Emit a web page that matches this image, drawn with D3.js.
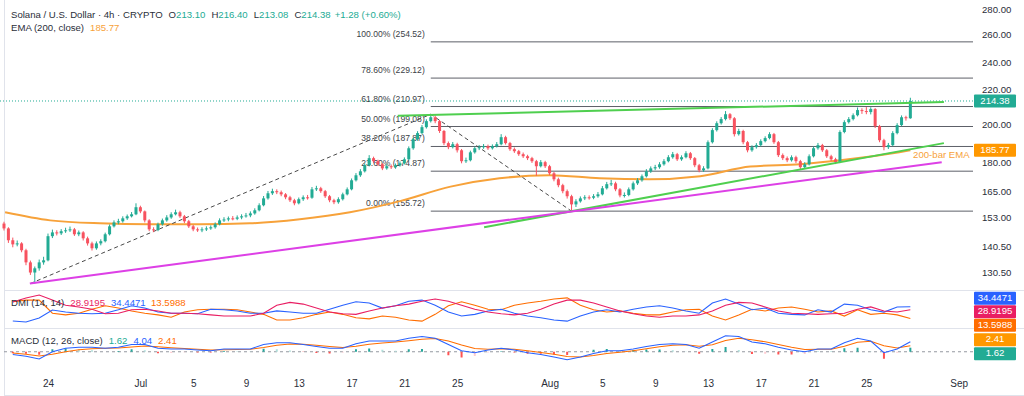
<!DOCTYPE html>
<html>
<head>
<meta charset="utf-8">
<script src="https://cdn.jsdelivr.net/npm/d3@7"></script>
<style>
  body { margin: 0; background: #fff; }
  svg { display: block; font-family: "Liberation Sans", Arial, sans-serif; }
</style>
</head>
<body>
<div id="chart"></div>
<script>
// ---- data ----
const candleStart = "2025-06-20T16:00";   // 8h candles
const firstOpen = 150.2;
const closes = [148.1,143.1,141.4,141.8,139.0,134.2,130.3,131.9,134.2,135.0,
  144.8,146.4,146.0,146.9,147.3,147.7,145.6,146.4,143.9,141.8,
  139.8,141.8,142.7,145.6,149.0,150.7,151.2,152.5,153.4,154.3,
  157.5,155.6,151.6,147.7,147.4,149.9,151.6,152.9,154.3,155.2,
  153.4,151.2,149.0,147.7,147.3,147.7,148.1,148.6,149.9,151.6,
  152.0,152.5,152.3,152.9,153.4,153.8,154.7,156.1,158.4,161.6,
  164.0,165.0,164.5,163.5,162.1,160.7,159.3,161.2,162.1,161.9,
  165.9,166.4,165.0,162.6,160.7,159.8,161.2,163.5,165.9,170.3,
  172.8,174.8,177.9,181.6,180.0,178.4,176.3,177.4,176.9,177.9,
  178.9,181.0,186.9,191.9,195.3,198.7,202.2,204.5,202.2,196.5,
  189.7,187.5,189.1,185.8,180.0,180.5,184.7,186.9,187.5,188.0,
  186.9,188.0,189.1,193.0,189.7,186.4,185.3,183.7,182.6,181.6,
  180.0,177.4,179.5,177.4,173.8,170.8,167.9,165.0,162.6,158.8,
  160.2,161.6,162.1,161.9,162.6,163.5,166.4,168.4,168.8,165.9,
  163.0,163.2,165.9,168.8,170.3,172.3,174.8,176.3,176.9,178.4,
  180.0,182.1,183.7,181.0,182.1,184.2,181.6,177.9,175.3,176.3,
  190.2,197.0,201.0,203.4,206.3,203.9,194.7,196.5,190.2,185.8,
  187.5,188.6,190.8,192.5,194.7,190.2,183.2,181.6,180.5,182.1,
  180.0,176.9,178.4,182.6,186.9,188.6,185.8,182.6,181.0,179.5,
  195.9,201.6,203.4,205.7,208.8,208.2,207.6,209.4,199.3,191.3,
  187.5,188.6,195.3,199.9,204.5,203.9,214.38];
const highs = [151.0,148.6,144.2,143.0,142.3,139.6,134.9,132.6,135.3,136.4,
  145.9,147.6,147.3,147.8,148.4,148.9,148.3,147.2,146.9,144.6,
  142.5,142.6,143.5,146.3,149.8,151.6,152.3,153.4,154.2,155.3,
  159.3,158.2,156.0,152.1,148.6,150.6,152.4,153.9,155.2,156.4,
  155.9,154.0,151.8,149.6,148.5,148.6,149.0,149.4,150.7,152.5,
  153.0,153.3,153.5,153.8,154.3,154.9,155.6,157.0,159.3,162.7,
  165.1,166.2,165.9,165.3,164.1,162.8,161.4,162.0,163.0,163.2,
  167.0,167.6,167.1,165.6,163.2,161.4,162.1,164.3,166.8,171.2,
  173.9,175.9,178.8,183.2,182.4,180.8,179.0,178.5,178.3,178.8,
  179.9,182.0,187.9,192.8,196.4,199.9,203.3,206.3,205.6,202.9,
  197.1,190.6,190.3,189.9,186.5,181.9,185.6,187.8,188.6,189.2,
  188.9,189.0,190.3,194.7,193.8,190.4,187.3,186.0,184.6,183.4,
  182.3,180.7,180.6,180.2,178.1,174.5,171.6,168.6,165.8,163.3,
  161.2,162.5,163.1,163.0,163.6,164.6,167.5,169.5,170.5,169.6,
  166.5,164.4,166.8,169.7,171.4,173.2,175.9,177.3,178.1,179.5,
  181.1,183.2,184.9,184.4,183.1,185.3,184.9,182.2,178.6,177.4,
  191.2,198.1,202.1,204.6,208.2,207.0,204.6,197.8,197.2,190.9,
  188.5,189.7,191.8,193.5,195.8,195.4,190.9,184.1,182.5,183.1,
  182.9,180.7,179.5,183.6,187.9,189.8,189.3,186.5,183.4,181.8,
  196.9,202.7,204.6,206.8,210.4,209.9,210.6,210.5,210.0,200.0,
  192.1,189.8,196.4,201.0,205.6,205.4,216.40];
const lows = [147.2,142.0,140.2,140.6,138.2,133.1,129.4,126.2,131.0,133.3,
  134.6,144.0,145.1,145.3,146.2,146.6,144.9,144.8,143.0,140.9,
  138.9,139.2,141.0,142.2,145.1,148.5,149.9,150.6,151.8,152.9,
  153.9,154.8,150.7,146.9,146.5,146.9,149.3,151.0,152.3,153.8,
  152.7,150.4,148.3,146.9,146.6,146.5,147.0,147.5,148.0,149.4,
  150.9,151.2,151.6,151.7,152.1,152.8,153.0,154.1,155.6,157.9,
  161.0,163.2,163.6,162.6,161.2,159.9,158.4,158.8,160.4,161.0,
  161.4,165.1,164.2,161.8,159.8,158.9,159.1,160.6,163.0,165.4,
  169.7,172.0,174.2,177.3,179.1,177.5,175.4,175.6,176.0,176.1,
  177.2,178.3,180.5,186.1,191.0,194.6,197.9,201.4,201.0,195.4,
  188.6,186.4,186.8,184.6,178.9,179.1,179.9,184.0,185.9,186.6,
  186.0,186.2,187.3,188.5,188.9,185.5,184.4,182.8,181.7,180.6,
  179.1,172.6,176.8,176.5,172.9,169.8,166.9,164.0,161.5,155.7,
  157.6,159.6,160.8,161.0,161.2,161.9,163.0,165.8,167.5,165.0,
  162.1,162.0,162.6,165.3,168.0,169.6,171.7,174.0,175.4,176.1,
  177.7,179.4,181.3,180.1,180.2,181.5,180.7,176.9,174.3,174.5,
  175.8,189.5,196.2,200.2,202.6,202.9,193.4,193.9,189.1,184.7,
  185.0,186.7,187.9,190.1,191.8,189.3,182.2,180.6,179.5,179.8,
  179.0,175.8,176.1,177.8,182.0,186.1,184.9,181.7,180.1,178.5,
  179.0,195.2,200.8,202.6,205.0,206.5,206.3,206.2,198.2,190.2,
  185.8,186.5,188.0,194.6,199.2,202.5,203.6];

// EMA 200 read at points along the curve
const emaTimes = ["2025-06-20T18:00","2025-06-24T04:00","2025-06-27T22:00","2025-07-01T17:00",
  "2025-07-05T12:00","2025-07-09T07:00","2025-07-13T02:00","2025-07-16T21:00","2025-07-20T16:00",
  "2025-07-24T12:00","2025-07-28T05:00","2025-08-01T00:00","2025-08-04T19:00","2025-08-08T14:00",
  "2025-08-12T10:00","2025-08-16T05:00","2025-08-20T00:00","2025-08-23T19:00","2025-08-27T12:00",
  "2025-08-28T08:00"];
const emaValues = [155.2,151.6,150.3,149.9,149.9,150.3,152.1,155.2,160.3,
  167.2,171.3,172.8,171.3,170.8,172.3,177.2,178.4,181.1,184.8,185.77];

// drawings
const upperGreen = [["2025-07-20T12:00", 205.4], ["2025-08-30T21:00", 213.7]];
const lowerGreen = [["2025-07-27T01:00", 148.6], ["2025-08-30T21:00", 189.7]];
const magentaLine = [["2025-06-22T15:00", 126.2], ["2025-08-30T17:00", 179.5]];
const swingPath = [["2025-06-22T16:00", 126.2], ["2025-07-23T00:00", 206.3], ["2025-08-02T16:00", 155.7]];
const fibStart = "2025-07-23T00:00";
const fibLevels = ["0.00%","23.60%","38.20%","50.00%","61.80%","78.60%","100.00%"];
const fibPrices = [155.72, 174.87, 187.87, 199.08, 210.97, 229.12, 254.52];
const emaNote = ["2025-08-28T13:00", 183.2];

const priceTicks = [130.5, 140.5, 153, 165, 180, 200, 220, 240, 260, 280];
const timeTicks = ["2025-06-24","2025-07-01","2025-07-05","2025-07-09","2025-07-13","2025-07-17",
  "2025-07-21","2025-07-25","2025-08-01","2025-08-05","2025-08-09","2025-08-13","2025-08-17",
  "2025-08-21","2025-08-25","2025-09-01"];

const lastPrice = 214.38, lastEma = 185.77;
const legendOHLC = [["O", "213.10"], ["H", "216.40"], ["L", "213.08"], ["C", "214.38"]];
const legendChange = "+1.28 (+0.60%)";

// indicators, one value per day at 08:00
const indStart = "2025-06-21T08:00";
const adx = [42.7,49.7,55,46,37,34,30,22,23,29,30,27,23,23,22,20,18,18,18,23,
  37,42,39,32,25,22,21,27,32,36,39,44,48,44,37,30,25,22,20,23,
  30,39,46,46,41,34,27,22,18,16,18,18,20,27,37,42,41,34,27,23,
  22,21,22,23,30,34,27,25,28.9195];
const plusDI = [9.3,7.5,14.6,28.6,25,23,22,23,29,36,32,25,23,23,22,30,29,27,23,23,
  27,25,23,23,30,37,43,41,32,36,44,46,37,25,18,21,27,30,23,18,
  15,11,9,18,25,29,25,30,34,36,32,27,23,41,48,39,29,32,23,21,
  20,29,25,39,37,29,25,34,34.4471];
const minusDI = [43,46,46,23,20,23,30,36,32,27,23,20,16,25,29,30,30,29,25,21,
  11,11,15,21,25,21,15,13,18,16,11,9,21,36,43,37,30,29,37,41,
  44,48,50,37,29,25,27,23,20,20,25,29,30,18,11,20,30,27,32,34,
  30,25,27,18,29,21,23,20,13.5988];
const macdLine = [-1.1,-1.8,-2.9,0,1.4,1.8,1.8,1.4,1.8,2.9,2.9,1.4,1.1,1.1,0.7,0.4,1.1,1.1,1.1,2.9,
  3.6,3.6,2.9,2.1,1.4,1.4,3.2,4.3,4.3,4.3,5.4,6.1,5.4,2.9,0.4,-0.4,0.7,1.4,0.7,-0.4,
  -1.1,-2.1,-3.2,-2.1,-0.7,0.4,0.4,1.1,2.1,2.9,3.2,2.9,1.4,3.9,6.4,6.1,3.9,3.2,1.8,0.7,
  0,1.1,1.1,3.6,5.4,4.3,-0.4,1.1,4.04];
const signalLine = [-0.5,-1.0,-1.7,-1.0,0.0,0.8,1.2,1.4,1.5,1.9,2.3,2.0,1.6,1.3,1.0,0.7,0.8,0.9,1.0,1.7,
  2.6,3.1,3.0,2.6,2.1,1.7,2.2,3.0,3.5,3.9,4.4,5.0,5.3,4.3,2.7,1.3,1.0,1.2,1.0,0.4,
  -0.3,-1.0,-1.9,-2.1,-1.5,-0.7,-0.2,0.4,1.2,2.0,2.6,2.8,2.2,2.8,4.5,5.4,4.8,4.0,2.9,1.8,
  0.9,1.0,1.0,2.2,3.8,4.2,2.4,1.5,2.41];
const macdHist = [-0.6,-0.8,-1.2,1.0,1.4,1.0,0.6,0.0,0.3,1.0,0.6,-0.6,-0.5,-0.2,-0.3,-0.3,0.3,0.2,0.1,1.2,
  1.0,0.5,-0.1,-0.5,-0.7,-0.3,1.0,1.3,0.8,0.4,1.0,1.1,0.1,-1.4,-2.3,-1.7,-0.3,0.2,-0.3,-0.8,
  -0.8,-1.1,-1.3,0.0,0.8,1.1,0.6,0.7,0.9,0.9,0.6,0.1,-0.8,1.1,1.9,0.7,-0.9,-0.8,-1.1,-1.1,
  -0.9,0.1,0.1,1.4,1.6,0.1,-2.8,-0.4,1.62];

// ---- setup ----
const width = 1024, height = 396;
const W = 973;                       // right edge of the plot area
const parse = d3.timeParse("%Y-%m-%dT%H:%M");
const parseDay = d3.timeParse("%Y-%m-%d");
const last = a => a[a.length - 1];
const c = {
  up: "#22ab94", down: "#f7525f", ema: "#f7a23a", emaBox: "#ff9800",
  green: "#4fcf4f", magenta: "#dd40e6", fib: "#5d6068", text: "#2a2e39",
  adx: "#e91e63", plus: "#2962ff", minus: "#ff6d00", macd: "#2962ff", signal: "#ff6d00",
  sep: "#e0e3eb"
};

const svg = d3.select("#chart").append("svg")
  .attr("width", width).attr("height", height);

const x = d3.scaleTime()
  .domain([parse("2025-06-20T08:44"), parse("2025-09-02T01:55")])
  .range([0, W]);
const y = d3.scaleLog().domain([130.5, 280]).range([272, 9]);
const yDmi = d3.scaleLinear().domain([-3, 62]).range([328, 291]);
const yMacd = d3.scaleLinear().domain([-6.5, 9.5]).range([368, 328]);

// frame and pane separators
svg.append("line").attr("x1", 4.5).attr("x2", 4.5).attr("y1", 0).attr("y2", 395)
  .attr("stroke", c.sep);
svg.append("line").attr("x1", 4).attr("x2", width).attr("y1", 395.5).attr("y2", 395.5)
  .attr("stroke", c.sep);
[290.5, 328.5].forEach(v => {
  svg.append("line").attr("x1", 4).attr("x2", width).attr("y1", v).attr("y2", v)
    .attr("stroke", c.sep);
});

const price = svg.append("g");
const pt = p => [x(parse(p[0])), y(p[1])];

// fib levels
fibPrices.forEach((p, i) => {
  price.append("line")
    .attr("x1", x(parse(fibStart))).attr("x2", W)
    .attr("y1", y(p)).attr("y2", y(p))
    .attr("stroke", c.fib).attr("stroke-width", 1);
  price.append("text")
    .attr("x", x(parse(fibStart)) - 6).attr("y", y(p) - 5)
    .attr("text-anchor", "end").attr("font-size", 8.6).attr("fill", "#3c3f47")
    .text(fibLevels[i] + " (" + p.toFixed(2) + ")");
});

// last price dotted line
price.append("line")
  .attr("x1", 0).attr("x2", W).attr("y1", y(lastPrice)).attr("y2", y(lastPrice))
  .attr("stroke", c.up).attr("stroke-dasharray", "1,2");

// EMA
const emaData = emaTimes.map((t, i) => ({ t: parse(t), v: emaValues[i] }));
price.append("path").datum(emaData)
  .attr("fill", "none").attr("stroke", c.ema).attr("stroke-width", 2)
  .attr("d", d3.line().x(d => x(d.t)).y(d => y(d.v)).curve(d3.curveMonotoneX));

// dashed swing lines
price.append("path").datum(swingPath)
  .attr("fill", "none").attr("stroke", "#4a4a4a").attr("stroke-width", 1)
  .attr("stroke-dasharray", "4,3")
  .attr("d", d3.line().x(d => pt(d)[0]).y(d => pt(d)[1]));

// candles
const candles = closes.map((cl, i) => ({
  t: d3.timeHour.offset(parse(candleStart), 8 * i),
  o: i ? closes[i - 1] : firstOpen, h: highs[i], l: lows[i], c: cl
}));
const cg = price.append("g");
cg.selectAll("line").data(candles).enter().append("line")
  .attr("x1", d => x(d.t)).attr("x2", d => x(d.t))
  .attr("y1", d => y(d.h)).attr("y2", d => y(d.l))
  .attr("stroke", d => d.c >= d.o ? c.up : c.down).attr("stroke-width", 1);
cg.selectAll("rect").data(candles).enter().append("rect")
  .attr("x", d => x(d.t) - 1.5).attr("width", 3)
  .attr("y", d => y(Math.max(d.o, d.c)))
  .attr("height", d => Math.max(1, Math.abs(y(d.o) - y(d.c))))
  .attr("fill", d => d.c >= d.o ? c.up : c.down);

// trend lines
[[upperGreen, c.green], [lowerGreen, c.green], [magentaLine, c.magenta]].forEach(([seg, col]) => {
  price.append("line")
    .attr("x1", pt(seg[0])[0]).attr("y1", pt(seg[0])[1])
    .attr("x2", pt(seg[1])[0]).attr("y2", pt(seg[1])[1])
    .attr("stroke", col).attr("stroke-width", 2);
});

price.append("text")
  .attr("x", x(parse(emaNote[0]))).attr("y", y(emaNote[1]))
  .attr("dominant-baseline", "middle").attr("font-size", 9.6).attr("fill", c.ema)
  .text("200-bar EMA");

// price axis; labels that would sit under a value box are nudged clear of it
const boxYs = [y(lastPrice), y(lastEma)];
const ay = svg.append("g").attr("transform", "translate(" + W + ",0)")
  .call(d3.axisRight(y).tickValues(priceTicks).tickFormat(d3.format(".2f")).tickSize(0).tickPadding(9));
ay.select(".domain").remove();
ay.selectAll("text").attr("font-size", 9.6).attr("fill", c.text)
  .attr("font-family", "Liberation Sans, Arial, sans-serif")
  .attr("dy", d => {
    let shift = 0;
    boxYs.forEach(b => {
      const gap = y(d) - b;
      if (Math.abs(gap) < 12) shift = gap < 0 ? gap + 12 : gap - 12;
    });
    return (0.32 - shift / 9.6) + "em";
  });

// time axis
const ax = svg.append("g").attr("transform", "translate(0,377)")
  .call(d3.axisBottom(x).tickValues(timeTicks.map(parseDay))
    .tickFormat(d => d.getDate() === 1 ? d3.timeFormat("%b")(d) : d.getDate())
    .tickSize(0).tickPadding(3));
ax.select(".domain").remove();
ax.selectAll("text").attr("font-size", 10).attr("fill", c.text)
  .attr("font-family", "Liberation Sans, Arial, sans-serif");

// value boxes on the axis
function box(yc, txt, fill) {
  svg.append("rect").attr("x", 974).attr("y", yc - 6.5).attr("width", 42).attr("height", 13)
    .attr("fill", fill).attr("rx", 1);
  svg.append("text").attr("x", 995).attr("y", yc).attr("dominant-baseline", "middle")
    .attr("text-anchor", "middle").attr("font-size", 9.6).attr("fill", "#fff").text(txt);
}
function stacked(items, gap) {
  // keep overlapping labels apart, centred on their mean
  items.sort((a, b) => a.y - b.y);
  const overlap = items.some((d, i) => i && d.y - items[i - 1].y < gap);
  if (overlap) {
    const m = d3.mean(items, d => d.y);
    items.forEach((d, i) => d.y = m + (i - (items.length - 1) / 2) * gap);
  }
  items.forEach(d => box(d.y, d.txt, d.fill));
}
box(y(lastPrice), lastPrice.toFixed(2), c.up);
box(y(lastEma), lastEma.toFixed(2), c.emaBox);

// DMI pane
const ind = adx.map((_, i) => d3.timeDay.offset(parse(indStart), i));
const dline = (arr, sc) => d3.line().x((d, i) => x(ind[i])).y(d => sc(d))(arr);
[[minusDI, c.minus], [plusDI, c.plus], [adx, c.adx]].forEach(([arr, col]) => {
  svg.append("path").attr("d", dline(arr, yDmi)).attr("fill", "none")
    .attr("stroke", col).attr("stroke-width", 1.1);
});
stacked([
  { y: yDmi(last(plusDI)), txt: last(plusDI).toFixed(4), fill: c.plus },
  { y: yDmi(last(adx)), txt: last(adx).toFixed(4), fill: c.adx },
  { y: yDmi(last(minusDI)), txt: last(minusDI).toFixed(4), fill: c.minus }
], 13.5);

// MACD pane
svg.append("line").attr("x1", 4).attr("x2", W).attr("y1", yMacd(0)).attr("y2", yMacd(0))
  .attr("stroke", "#9598a1").attr("stroke-dasharray", "3,3");
svg.selectAll(".hist").data(macdHist).enter().append("rect")
  .attr("x", (d, i) => x(ind[i]) - 1).attr("width", 2)
  .attr("y", d => yMacd(Math.max(0, d)))
  .attr("height", d => Math.abs(yMacd(d) - yMacd(0)))
  .attr("fill", (d, i) => d >= 0 ? (i && d < macdHist[i - 1] ? "#b2dfdb" : "#26a69a")
                                 : (i && d > macdHist[i - 1] ? "#ffcdd2" : "#ff5252"));
[[signalLine, c.signal], [macdLine, c.macd]].forEach(([arr, col]) => {
  svg.append("path").attr("d", dline(arr, yMacd)).attr("fill", "none")
    .attr("stroke", col).attr("stroke-width", 1.1);
});
stacked([
  { y: yMacd(last(signalLine)), txt: last(signalLine).toFixed(2), fill: c.emaBox },
  { y: yMacd(last(macdHist)), txt: last(macdHist).toFixed(2), fill: c.up }
], 14);

// legends
const lg = svg.append("g").attr("fill", c.text).attr("font-size", 9.6);
const l1 = lg.append("text").attr("x", 11).attr("y", 18);
l1.append("tspan").text("Solana / U.S. Dollar · 4h · CRYPTO");
legendOHLC.forEach(([k, v]) => {
  l1.append("tspan").attr("dx", 6).text(k);
  l1.append("tspan").attr("fill", c.up).text(v);
});
l1.append("tspan").attr("dx", 4).attr("fill", c.up).text(legendChange);
const l2 = lg.append("text").attr("x", 11).attr("y", 30.5);
l2.append("tspan").text("EMA (200, close)");
l2.append("tspan").attr("dx", 6).attr("fill", c.ema).text(lastEma.toFixed(2));

const l3 = lg.append("text").attr("x", 11).attr("y", 306);
l3.append("tspan").text("DMI (14, 14)");
l3.append("tspan").attr("dx", 6).attr("fill", c.adx).text(last(adx).toFixed(4));
l3.append("tspan").attr("dx", 6).attr("fill", c.plus).text(last(plusDI).toFixed(4));
l3.append("tspan").attr("dx", 6).attr("fill", c.minus).text(last(minusDI).toFixed(4));

const l4 = lg.append("text").attr("x", 11).attr("y", 344);
l4.append("tspan").text("MACD (12, 26, close)");
l4.append("tspan").attr("dx", 6).attr("fill", c.up).text(last(macdHist).toFixed(2));
l4.append("tspan").attr("dx", 6).attr("fill", c.macd).text(last(macdLine).toFixed(2));
l4.append("tspan").attr("dx", 6).attr("fill", c.signal).text(last(signalLine).toFixed(2));
</script>
</body>
</html>
